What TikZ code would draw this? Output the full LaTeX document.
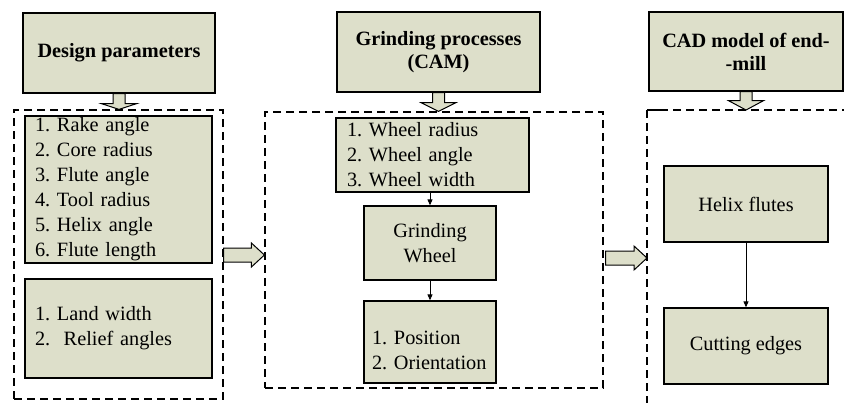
\documentclass[tikz,border=0pt]{standalone}
\usepackage{fontspec}
\setmainfont{Liberation Serif}
\usetikzlibrary{arrows.meta,calc}
\definecolor{boxfill}{HTML}{DDDFCA}
\tikzset{
  box/.style={draw=black, line width=1.3pt, fill=boxfill, inner sep=0pt,
    font=\fontsize{20.3}{25}\selectfont\frenchspacing, align=center},
  listbox/.style={box, align=left, inner ysep=0pt},
  hdr/.style={box, font=\fontsize{20.3}{23}\selectfont\bfseries},
  group/.style={draw=black, line width=1.2pt, dash pattern=on 8pt off 5pt, inner sep=0pt},
  blk/.style={draw=black, line width=1pt, fill=boxfill, line join=miter},
  conn/.style={draw=black, line width=0.9pt, -{Triangle[length=6pt,width=5pt]}}
}
\begin{document}
\begin{tikzpicture}[x=1pt,y=-1pt]
\useasboundingbox (0,0) rectangle (844,402);
% dashed groups
\node[group, minimum width=209pt, minimum height=289pt] (g1) at (118.5,254.5) {};
\node[group, minimum width=338pt, minimum height=276pt] (g2) at (434,250) {};
\draw[group] (660,110) -- (647,110) -- (647,420);
\draw[group] (647,110) -- (860,110);
\coordinate (g3w) at (647,258);
% headers
\node[hdr, minimum width=192pt, minimum height=80pt] (dp) at (119,53) {Design parameters};
\node[hdr, minimum width=203pt, minimum height=80pt] (gp) at (438.5,52) {Grinding processes\\(CAM)};
\node[hdr, minimum width=194pt, minimum height=79pt] (cad) at (746,51.5) {CAD model of end-\\-mill};
% left column
\node[listbox, inner xsep=10pt, text width=167pt, minimum height=147pt] (rake) at (118.5,189.5)
  {1. Rake angle\\2. Core radius\\3. Flute angle\\4. Tool radius\\5. Helix angle\\6. Flute length};
\node[listbox, inner xsep=10pt, text width=167pt, minimum height=99pt] (land) at (118.5,328.5)
  {1. Land width\\2.\ \ Relief angles};
% middle column
\node[listbox, inner xsep=11pt, text width=171pt, minimum height=74pt] (wp) at (432.5,155)
  {1. Wheel radius\\2. Wheel angle\\3. Wheel width};
\node[box, minimum width=132pt, minimum height=74pt] (gw) at (430,243) {Grinding\\Wheel};
\node[listbox, inner xsep=8pt, text width=116pt, minimum height=82pt] (pos) at (430,342)
  {\rule{0pt}{31pt}1. Position\\2. \mbox{Orientation}};
% right column
\node[box, minimum width=164pt, minimum height=76pt] (hf) at (746,204) {Helix flutes};
\node[box, minimum width=164pt, minimum height=76pt] (ce) at (746,346) {Cutting edges};
% thin connectors
\draw[conn] (wp.south -| gw.north) -- (gw.north);
\draw[conn] (gw.south) -- (pos.north);
\draw[conn] (hf.south) -- (ce.north);
% block arrows down
\foreach \n/\g in {dp/g1, gp/g2}{
  \draw[blk] ($(\n.south)+(-6,0)$) -- ($(\n.south)+(6,0)$) -- ($(\n.south)+(6,10)$) -- ($(\n.south)+(17.5,10)$)
    -- (\n.south |- \g.north) -- ($(\n.south)+(-17.5,10)$) -- ($(\n.south)+(-6,10)$) -- cycle;
}
\coordinate (g3n) at (746,110);
\draw[blk] ($(cad.south)+(-6,0)$) -- ($(cad.south)+(6,0)$) -- ($(cad.south)+(6,9)$) -- ($(cad.south)+(17.5,9)$)
    -- (g3n) -- ($(cad.south)+(-17.5,9)$) -- ($(cad.south)+(-6,9)$) -- cycle;
% block arrows right
\coordinate (a1s) at (g1.east |- 0,255);
\coordinate (a1e) at (g2.west |- 0,255);
\draw[blk] ($(a1s)+(0,-7)$) -- ($(a1e)+(-13,-7)$) -- ($(a1e)+(-13,-12)$) -- (a1e)
  -- ($(a1e)+(-13,12)$) -- ($(a1e)+(-13,7)$) -- ($(a1s)+(0,7)$) -- cycle;
\coordinate (a2s) at (g2.east |- 0,258);
\draw[blk] ($(a2s)+(2,-7)$) -- ($(g3w)+(-13,-7)$) -- ($(g3w)+(-13,-12)$) -- (g3w)
  -- ($(g3w)+(-13,12)$) -- ($(g3w)+(-13,7)$) -- ($(a2s)+(2,7)$) -- cycle;
\end{tikzpicture}
\end{document}
